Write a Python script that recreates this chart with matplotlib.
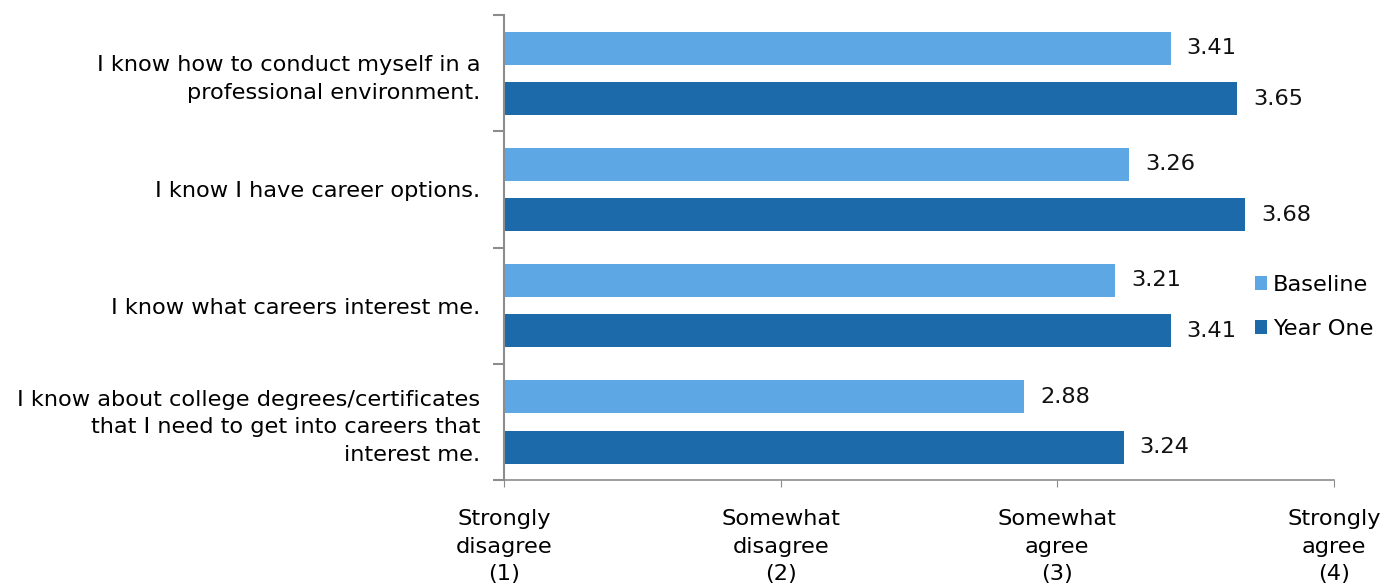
import matplotlib.pyplot as plt
import numpy as np

plt.rcParams['font.family'] = ['Verdana', 'DejaVu Sans']

# Survey items, top to bottom
statements = [
    "I know how to conduct myself in a\nprofessional environment.",
    "I know I have career options.",
    "I know what careers interest me.",
    "I know about college degrees/certificates\nthat I need to get into careers that\ninterest me.",
]
baseline = [3.41, 3.26, 3.21, 2.88]
year_one = [3.65, 3.68, 3.41, 3.24]

scale_values = [1, 2, 3, 4]
scale_labels = ["Strongly\ndisagree\n(1)", "Somewhat\ndisagree\n(2)",
                "Somewhat\nagree\n(3)", "Strongly\nagree\n(4)"]

light_blue = '#5DA8E4'
dark_blue = '#1D6AAB'
axis_grey = '#8C8C8C'
fs = 16.2

fig = plt.figure(figsize=(13.9, 5.86), dpi=100)
ax = fig.add_axes([0.3626, 0.181, 0.5971, 0.793])

n = len(statements)
pos = np.arange(n)[::-1].astype(float)
h = 0.285
off = 0.217

b1 = ax.barh(pos + off, np.array(baseline) - 1, left=1, height=h,
             color=light_blue, label='Baseline')
b2 = ax.barh(pos - off, np.array(year_one) - 1, left=1, height=h,
             color=dark_blue, label='Year One')

for bars, vals in ((b1, baseline), (b2, year_one)):
    for bar, v in zip(bars, vals):
        ax.text(v + 0.058, bar.get_y() + bar.get_height() / 2, f"{v:.2f}",
                va='center', ha='left', fontsize=fs, color='#111111')

ax.set_xlim(1, 4)
ax.set_ylim(-0.5, n - 0.5)

ax.set_xticks(scale_values)
ax.set_xticklabels(scale_labels, fontsize=fs, linespacing=1.48)
ax.tick_params(axis='x', length=5, color=axis_grey, pad=16)

ax.set_yticks(pos)
ax.set_yticklabels(statements, fontsize=fs, linespacing=1.45)
ax.set_yticks(np.arange(n + 1) - 0.5, minor=True)
ax.tick_params(axis='y', which='major', length=0, pad=17)
ax.tick_params(axis='y', which='minor', length=8, color=axis_grey, width=1.5)

for side in ('top', 'right'):
    ax.spines[side].set_visible(False)
ax.spines['left'].set_color(axis_grey)
ax.spines['left'].set_linewidth(1.5)
ax.spines['bottom'].set_color(axis_grey)
ax.spines['bottom'].set_linewidth(1.2)

fig.legend(handles=[b1, b2], loc='center left',
           bbox_to_anchor=(1239 / 1390, 1 - 307 / 586), frameon=False,
           fontsize=fs, handlelength=0.55, handleheight=0.55,
           handletextpad=0.25, labelspacing=1.05, borderpad=0.2)

fig.savefig('out.png', dpi=100)
